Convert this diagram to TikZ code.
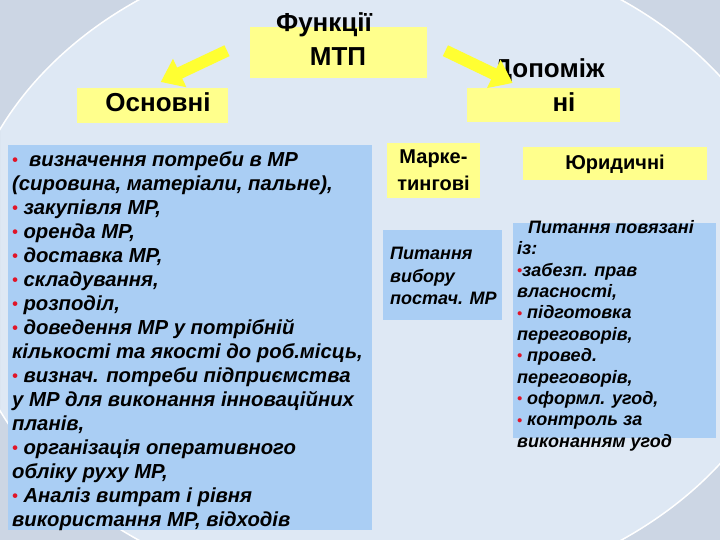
\documentclass[tikz,border=0pt]{standalone}
\usepackage{fontspec}
\setmainfont{Liberation Sans}
\usepackage{xcolor}
\usetikzlibrary{positioning, arrows.meta, calc}

\definecolor{bgblue}{RGB}{222,232,244}
\definecolor{edgeblue}{RGB}{204,214,228}
\definecolor{boxyellow}{RGB}{255,255,140}
\definecolor{arryellow}{RGB}{255,255,50}
\definecolor{boxblue}{RGB}{170,206,244}
\definecolor{bulletred}{RGB}{225,20,40}

\newcommand{\blt}{\textcolor{bulletred}{\raisebox{0.8pt}{\scalebox{0.8}{\textbullet}}}}

\tikzset{
  ybox/.style={fill=boxyellow, anchor=north west, inner sep=0pt},
  bbox/.style={fill=boxblue, anchor=north west, inner sep=0pt},
  headtext/.style={font=\bfseries\fontsize{26}{34}\selectfont, align=center, inner sep=0pt},
  subtext/.style={font=\bfseries\fontsize{20}{27}\selectfont, align=center, inner sep=0pt},
  listtext/.style={font=\bfseries\itshape\fontsize{20.3}{24}\selectfont, align=left, anchor=north west, inner sep=0pt},
  smalltext/.style={font=\bfseries\itshape\fontsize{18}{21.4}\selectfont, align=left, anchor=north west, inner sep=0pt},
  fatarrow/.style={arryellow, line width=12pt, -{Triangle[width=30pt,length=21pt]}}
}

\begin{document}
\begin{tikzpicture}[x=1pt, y=-1pt]
  \useasboundingbox (0,0) rectangle (720,540);
  \clip (0,0) rectangle (720,540);
  % Background
  \fill[bgblue] (0,0) rectangle (720,540);
  \fill[edgeblue, even odd rule] (0,0) rectangle (720,540) (380,270) ellipse [x radius=420, y radius=330];
  \draw[white, line width=1.5pt] (380,270) ellipse [x radius=420, y radius=330];
  % Boxes
  \node[ybox, minimum width=177pt, minimum height=51pt] (funcbox) at (250,27) {};
  \node[ybox, minimum width=151pt, minimum height=35pt] (osnbox) at (77,88) {};
  \node[ybox, minimum width=153pt, minimum height=34pt] (dopbox) at (467,88) {};
  \node[bbox, minimum width=364pt, minimum height=385pt] (mainbox) at (8,145) {};
  \node[ybox, minimum width=93pt, minimum height=55pt] (markbox) at (387,143) {};
  \node[ybox, minimum width=184pt, minimum height=33pt] (yurbox) at (523,147) {};
  \node[bbox, minimum width=119pt, minimum height=90pt] (vybbox) at (383,230) {};
  \node[bbox, minimum width=203pt, minimum height=215pt] (pytbox) at (513,223) {};
  % Headings
  \node[headtext, anchor=north] (functext) at (338,12) {Функції\hspace*{28pt}\\МТП};
  \node[headtext, anchor=base] (osntext) at (158,112) {Основні};
  \node[headtext, anchor=north] (doptext) at (549,58) {Допоміж\\\hspace*{30pt}ні};
  \node[subtext, anchor=north] (marktext) at (433.5,150) {Марке-\\тингові};
  \node[subtext, anchor=base] (yurtext) at (615,170) {Юридичні};
  % Lists
  \node[listtext] (maintext) at (12,151) {%
    \blt\ \ визначення потреби в МР\\
    (сировина, матеріали, пальне),\\
    \blt\ закупівля МР,\\
    \blt\ оренда МР,\\
    \blt\ доставка МР,\\
    \blt\ складування,\\
    \blt\ розподіл,\\
    \blt\ доведення МР у потрібній\\
    кількості та якості до роб.місць,\\
    \blt\ визнач. потреби підприємства\\
    у МР для виконання інноваційних\\
    планів,\\
    \blt\ організація оперативного\\
    обліку руху МР,\\
    \blt\ Аналіз витрат і рівня\\
    використання МР, відходів};
  \node[smalltext, font=\bfseries\itshape\fontsize{18}{22.5}\selectfont] (vybtext) at (390,247) {Питання\\вибору\\постач. МР};
  \node[smalltext] (pyttext) at (517,220) {%
    \hspace*{11pt}Питання повязані\\
    із:\\
    \blt забезп. прав\\
    власності,\\
    \blt\ підготовка\\
    переговорів,\\
    \blt\ провед.\\
    переговорів,\\
    \blt\ оформл. угод,\\
    \blt\ контроль за\\
    виконанням угод};
  % Arrows
  \draw[fatarrow] ($(funcbox.west)+(-23,-2)$) -- ($(osnbox.north)+(8,-6)$);
  \draw[fatarrow] ($(funcbox.east)+(18,-2)$) -- ($(dopbox.north)+(-31,-5)$);
\end{tikzpicture}
\end{document}
